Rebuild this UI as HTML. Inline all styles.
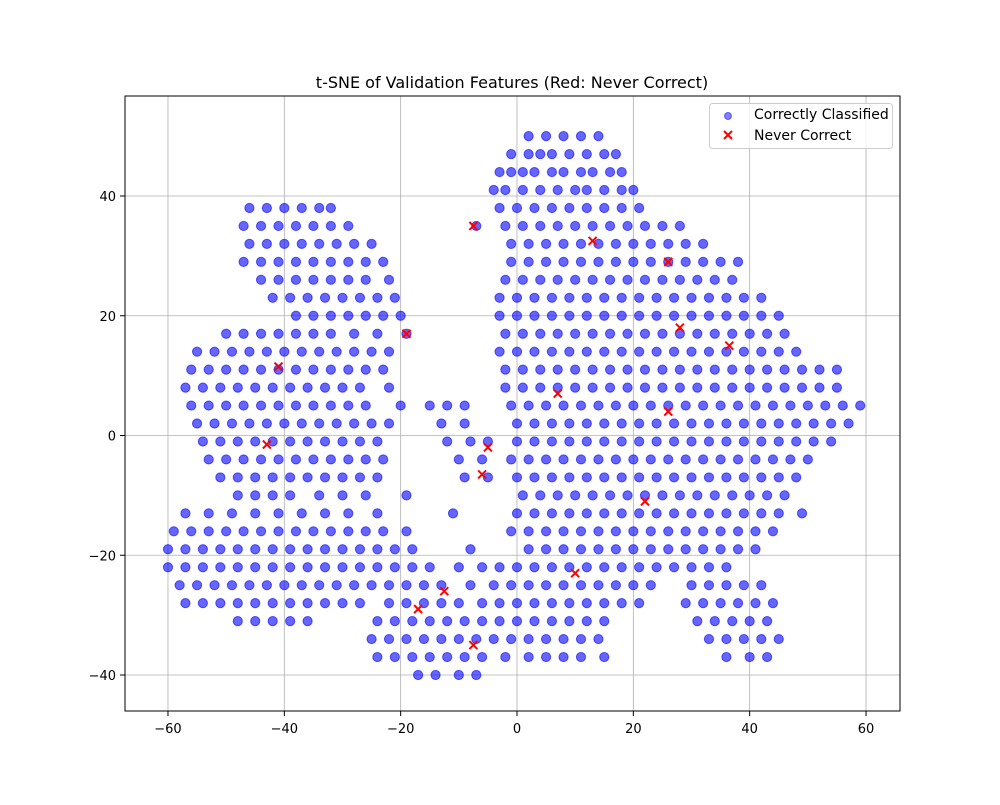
<!DOCTYPE html>
<html><head><meta charset="utf-8"><style>
body{margin:0;background:#fff;}
svg text{font-family:"DejaVu Sans","Liberation Sans",sans-serif;}
</style></head><body>
<svg id="chart" width="1000" height="800" xmlns="http://www.w3.org/2000/svg">
<rect width="1000" height="800" fill="#fff"/>
<text x="512" y="88" text-anchor="middle" font-size="16">t-SNE of Validation Features (Red: Never Correct)</text>
<g id="grid"></g><g id="pts"></g><g id="reds"></g><g id="axes"></g>
<rect x="125" y="96" width="775" height="615" fill="none" stroke="#000" stroke-width="1"/>
<g>
<rect x="709.5" y="103.5" width="183" height="45" rx="3" fill="#fff" fill-opacity="0.8" stroke="#ccc"/>
<circle cx="728" cy="116" r="3.5" fill="rgba(0,0,255,0.5)" stroke="rgba(0,0,255,0.5)"/>
<text x="754" y="119" font-size="14">Correctly Classified</text>
<path d="M724 131l8 8M732 131l-8 8" stroke="red" stroke-width="2"/>
<text x="754" y="140" font-size="14">Never Correct</text>
</g>
</svg>
<script>
const xTicks=[-60,-40,-20,0,20,40,60];
const yTicks=[-40,-20,0,20,40];
const redX=[-7.5,13,26,28,36.5,-19,-41,7,26,-43,-5,-6,22,10,-17,-12.5,-7.5];
const redY=[35,32.5,29,18,15,17,11.5,7,4,-1.5,-2,-6.5,-11,-23,-29,-26,-35];
const rowY=[50,47,44,41,38,35,32,29,26,23,20,17,14,11,8,5,2,-1,-4,-7,-10,-13,-16,-19,-22,-25,-28,-31,-34,-37,-40];
const rowX=[
[2,5,8,11,14],
[-1,2,4,6,9,12,15,17],
[-3,-1,1,3,6,8,11,13,16,18],
[-4,-2,1,4,7,10,12,15,18,20],
[-46,-43,-40,-37,-34,-32,-3,0,3,6,9,12,15,18,21],
[-47,-44,-41,-38,-35,-32,-29,-7,-2,1,4,7,10,13,16,19,22,25,28],
[-46,-43,-40,-37,-34,-31,-28,-25,-1,2,5,8,11,14,17,20,23,26,29,32],
[-47,-44,-41,-38,-35,-32,-29,-26,-23,-1,2,5,8,11,14,17,20,23,26,29,32,35,38],
[-44,-41,-38,-35,-32,-29,-26,-22,-2,1,4,7,10,13,16,19,22,25,28,31,34,37],
[-42,-39,-36,-33,-30,-27,-24,-21,-3,0,3,6,9,12,15,18,21,24,27,30,33,36,39,42],
[-38,-35,-32,-29,-26,-23,-20,-3,0,3,6,9,12,15,18,21,24,27,30,33,36,39,42,45],
[-50,-47,-44,-41,-38,-35,-32,-28,-24,-19,-2,1,4,7,10,13,16,19,22,25,28,31,34,37,40,43,46],
[-55,-52,-49,-46,-43,-40,-37,-34,-31,-28,-25,-22,-3,0,3,6,9,12,15,18,21,24,27,30,33,36,39,42,45,48],
[-56,-53,-50,-47,-44,-41,-38,-35,-32,-29,-26,-23,-2,1,4,7,10,13,16,19,22,25,28,31,34,37,40,43,46,49,52,55],
[-57,-54,-51,-48,-45,-42,-39,-36,-33,-30,-27,-22,-2,1,4,7,10,13,16,19,22,25,28,31,34,37,40,43,46,49,52,55],
[-56,-53,-50,-47,-44,-41,-38,-35,-32,-29,-26,-20,-15,-12,-9,-1,2,5,8,11,14,17,20,23,26,29,32,35,38,41,44,47,50,53,56,59],
[-55,-52,-49,-46,-43,-40,-37,-34,-31,-28,-25,-22,-13,-9,0,3,6,9,12,15,18,21,24,27,30,33,36,39,42,45,48,51,54,57],
[-54,-51,-48,-45,-42,-39,-36,-33,-30,-27,-24,-12,-8,-5,0,3,6,9,12,15,18,21,24,27,30,33,36,39,42,45,48,51,54],
[-53,-50,-47,-44,-41,-38,-35,-32,-29,-26,-23,-10,-6,-1,2,5,8,11,14,17,20,23,26,29,32,35,38,41,44,47,50],
[-51,-48,-45,-42,-39,-36,-33,-30,-27,-24,-9,-5,0,3,6,9,12,15,18,21,24,27,30,33,36,39,42,45,48],
[-48,-45,-42,-39,-34,-30,-26,-19,1,4,7,10,13,16,19,22,25,28,31,34,37,40,43,46],
[-57,-53,-49,-45,-41,-37,-33,-29,-24,-11,0,3,6,9,12,15,18,21,24,27,30,33,36,39,42,45,49],
[-59,-56,-53,-50,-47,-44,-41,-38,-35,-32,-29,-26,-23,-19,-1,2,5,8,11,14,17,20,23,26,29,32,35,38,41,44],
[-60,-57,-54,-51,-48,-45,-42,-39,-36,-33,-30,-27,-24,-21,-18,-8,2,5,8,11,14,17,20,23,26,29,32,35,38,41],
[-60,-57,-54,-51,-48,-45,-42,-39,-36,-33,-30,-27,-24,-21,-18,-15,-10,-6,-3,0,3,6,9,12,15,18,21,24,27,30,33,36],
[-58,-55,-52,-49,-46,-43,-40,-37,-34,-31,-28,-25,-22,-19,-16,-13,-8,-4,-1,2,5,8,11,14,17,20,23,30,33,36,39,42],
[-57,-54,-51,-48,-45,-42,-39,-36,-33,-30,-27,-22,-19,-16,-13,-10,-6,-3,0,3,6,9,12,15,18,21,29,32,35,38,41,44],
[-48,-45,-42,-39,-36,-24,-21,-18,-15,-12,-9,-6,-3,0,3,6,9,12,15,31,34,37,40,43],
[-25,-22,-19,-16,-13,-10,-7,-4,-1,2,5,8,11,14,33,36,39,42,45],
[-24,-21,-18,-15,-12,-9,-6,-2,2,5,8,11,15,36,40,43],
[-17,-14,-10,-7]
];
const NS="http://www.w3.org/2000/svg";
const xs=v=>517+v*5.817, ys=v=>435.5-v*5.9875;
const mk=(t,a,p)=>{const e=document.createElementNS(NS,t);for(const k in a)e.setAttribute(k,a[k]);p.appendChild(e);return e;};
const grid=document.getElementById('grid'),axes=document.getElementById('axes');
xTicks.forEach(t=>{const x=xs(t);
const g=mk('line',{x1:x,x2:x,y1:96,y2:711,stroke:'#b0b0b0','stroke-width':0.8},grid);


const tk=mk('line',{x1:x,x2:x,y1:711,y2:716,stroke:'#000'},axes);


const tx=mk('text',{x:x,y:733,'text-anchor':'middle','font-size':13},axes);tx.textContent=(t<0?'\u2212'+(-t):t);

});
yTicks.forEach(t=>{const y=ys(t);
const g=mk('line',{x1:125,x2:900,y1:y,y2:y,stroke:'#b0b0b0','stroke-width':0.8},grid);


const tk=mk('line',{x1:120,x2:125,y1:y,y2:y,stroke:'#000'},axes);


const tx=mk('text',{x:116,y:y+5,'text-anchor':'end','font-size':13},axes);tx.textContent=(t<0?'\u2212'+(-t):t);

});
const pts=document.getElementById('pts');
rowY.forEach((y,i)=>rowX[i].forEach(x=>{
const c=mk('circle',{cx:xs(x),cy:ys(y),r:4.6,fill:'rgba(0,0,255,0.6)',stroke:'rgba(0,0,255,0.6)','stroke-width':1},pts);

}));
const reds=document.getElementById('reds');
redX.forEach((x,i)=>{const cx=xs(x),cy=ys(redY[i]);
const p=mk('path',{d:`M${cx-4} ${cy-4}l8 8M${cx+4} ${cy-4}l-8 8`,stroke:'red','stroke-width':2},reds);

});
</script>
</body></html>
